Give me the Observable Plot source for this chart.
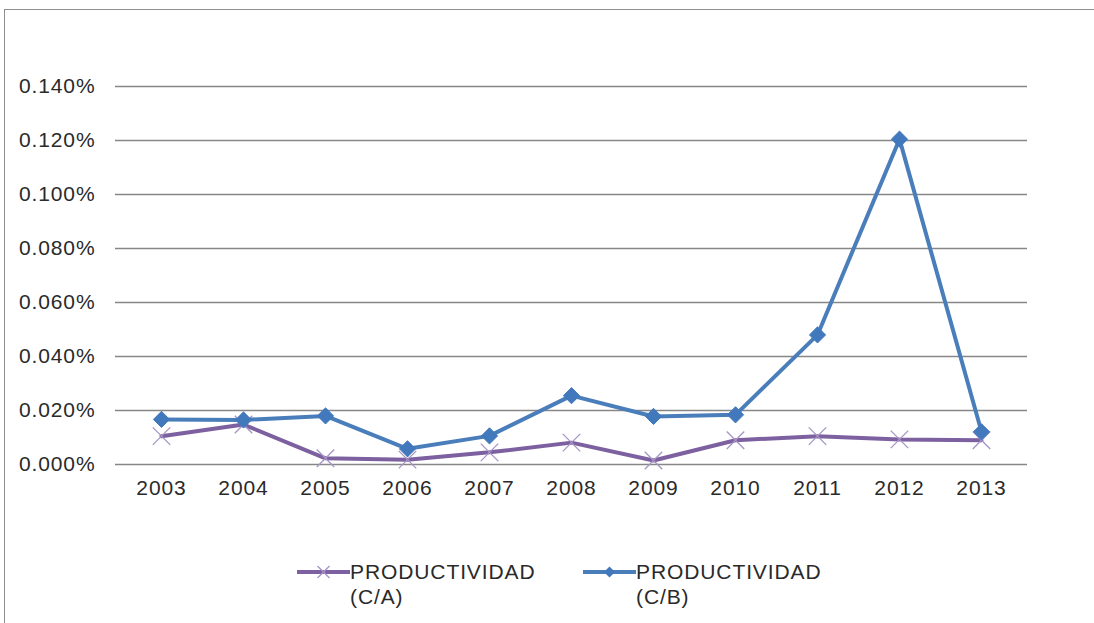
<!DOCTYPE html>
<html>
<head>
<meta charset="utf-8">
<script src="https://cdn.jsdelivr.net/npm/d3@7"></script>
<script src="https://cdn.jsdelivr.net/npm/@observablehq/plot@0.6"></script>
<style>
  html, body { margin: 0; padding: 0; background: #fff; overflow: hidden; width: 1094px; height: 623px; }
  #frame { position: absolute; left: 4px; top: 9px; width: 1200px; height: 700px; border: 1.5px solid #8e8e8e; box-sizing: border-box; }
  #chart { position: absolute; left: 0; top: 0; }
  #legend { position: absolute; left: 0; top: 540px; }
  svg text { letter-spacing: 0.9px; }
</style>
</head>
<body>
<div id="frame"></div>
<div id="chart"></div>
<div id="legend"></div>
<script>
const years = ["2003","2004","2005","2006","2007","2008","2009","2010","2011","2012","2013"];
const prodCA = [0.0105, 0.0148, 0.0023, 0.0018, 0.0045, 0.0081, 0.0015, 0.0090, 0.0105, 0.0093, 0.0090];
const prodCB = [0.0167, 0.0165, 0.0180, 0.0058, 0.0106, 0.0255, 0.0178, 0.0184, 0.0480, 0.1205, 0.0121];
const yTicks = [0, 0.02, 0.04, 0.06, 0.08, 0.10, 0.12, 0.14];
const seriesNames = ["PRODUCTIVIDAD (C/A)", "PRODUCTIVIDAD (C/B)"];

const purple = "#7d60a0";
const purpleMarker = "#a593c6";
const blue = "#4a7ebb";
const blueMarker = "#4279bd";

const dataCA = years.map((y, i) => ({year: y, value: prodCA[i]}));
const dataCB = years.map((y, i) => ({year: y, value: prodCB[i]}));

const chart = Plot.plot({
  width: 1094,
  height: 540,
  marginLeft: 115,
  marginRight: 67,
  marginTop: 86,
  marginBottom: 76,
  style: {fontFamily: "'Liberation Sans', Arial, sans-serif", fontSize: "21px", color: "#2a2a2a", background: "transparent", overflow: "visible"},
  x: {type: "point", domain: years, padding: 0.5, label: null, tickSize: 0, tickPadding: 16},
  y: {domain: [0, 0.14], ticks: yTicks, tickFormat: d => d.toFixed(3) + "%", label: null, tickSize: 0, tickPadding: 20},
  marks: [
    Plot.ruleY(yTicks, {stroke: "#878787", strokeWidth: 1.5}),
    Plot.line(dataCA, {x: "year", y: "value", stroke: purple, strokeWidth: 4, strokeLinejoin: "round"}),
    Plot.dot(dataCA, {x: "year", y: "value", symbol: "times", r: 8, stroke: purpleMarker, strokeWidth: 1.3}),
    Plot.line(dataCB, {x: "year", y: "value", stroke: blue, strokeWidth: 4, strokeLinejoin: "round"}),
    Plot.dot(dataCB, {x: "year", y: "value", symbol: "diamond2", r: 7.3, fill: blueMarker, stroke: blueMarker, strokeWidth: 1})
  ]
});
document.getElementById("chart").appendChild(chart);

// Legend
const lg = d3.select("#legend").append("svg").attr("width", 1094).attr("height", 83)
  .style("font-family", "'Liberation Sans', Arial, sans-serif").style("font-size", "21px");
const items = [
  {x0: 297, x1: 350, color: purple, marker: "times", mcolor: purpleMarker, name: seriesNames[0]},
  {x0: 583, x1: 636, color: blue, marker: "diamond", mcolor: blueMarker, name: seriesNames[1]}
];
items.forEach(it => {
  const cy = 32;
  lg.append("line").attr("x1", it.x0).attr("x2", it.x1).attr("y1", cy).attr("y2", cy)
    .attr("stroke", it.color).attr("stroke-width", 4);
  const mx = (it.x0 + it.x1) / 2;
  if (it.marker === "times") {
    lg.append("path").attr("d", `M${mx-6},${cy-6}L${mx+6},${cy+6}M${mx-6},${cy+6}L${mx+6},${cy-6}`)
      .attr("stroke", it.mcolor).attr("stroke-width", 1.3).attr("fill", "none");
  } else {
    lg.append("path").attr("d", `M${mx},${cy-5.5}L${mx+5.5},${cy}L${mx},${cy+5.5}L${mx-5.5},${cy}Z`)
      .attr("fill", it.mcolor);
  }
  const parts = it.name.split(" ");
  const t = lg.append("text").attr("x", it.x1).attr("y", cy + 7).attr("fill", "#2a2a2a");
  t.append("tspan").attr("x", it.x1).text(parts[0]);
  t.append("tspan").attr("x", it.x1).attr("dy", 25).text(parts[1]);
});
</script>
</body>
</html>
